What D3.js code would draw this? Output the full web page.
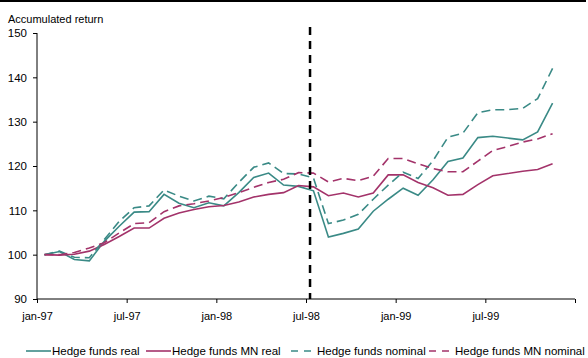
<!DOCTYPE html>
<html><head><meta charset="utf-8">
<script src="https://cdn.jsdelivr.net/npm/d3@7"></script>
<style>body{margin:0;background:#fff}svg{display:block;font-family:"Liberation Sans",Arial,sans-serif}</style>
</head><body><svg id="c" width="588" height="358"></svg>
<script>
const months = ["jan-97","feb-97","mar-97","apr-97","may-97","jun-97","jul-97","aug-97","sep-97","oct-97","nov-97","dec-97",
"jan-98","feb-98","mar-98","apr-98","may-98","jun-98","jul-98","aug-98","sep-98","oct-98","nov-98","dec-98",
"jan-99","feb-99","mar-99","apr-99","may-99","jun-99","jul-99","aug-99","sep-99","oct-99","nov-99"];
const tickLabels = ["jan-97","jul-97","jan-98","jul-98","jan-99","jul-99"];
const yTicks = [90,100,110,120,130,140,150];
const hfReal = [100,100.7,98.9,98.6,103,106.4,109.6,109.7,113.6,111.6,110.6,111.7,111,114,117.4,118.4,115.7,115.4,114.4,104,104.8,105.8,109.8,112.5,115,113.4,116.9,121,121.8,126.4,126.7,126.3,125.9,127.7,134.2];
const hfMnReal = [100,99.9,100.1,100.8,102.3,104.1,106,106,108.2,109.4,110.2,110.8,111.1,111.9,113,113.6,114,115.6,115.3,113.3,113.9,113,113.9,118,118,116.3,115.1,113.4,113.6,115.8,117.8,118.3,118.8,119.2,120.5];
const hfNominal = [100,100.8,99.4,99.3,103.4,107.5,110.6,111,114.6,113.2,112.1,113.2,112.6,116.3,119.7,120.7,118.3,118.2,117.3,107,107.8,109.1,112.5,115.7,118.6,117.2,121.2,126.5,127.4,132,132.7,132.7,133,135.2,142];
const hfMnNominal = [100,100,100.5,101.5,102.7,104.9,107,107.2,109.7,111,111.5,112.1,112.9,114,115.2,116.3,117,118.5,118.4,116.4,117.2,116.7,117.7,121.7,121.7,120.5,119.4,118.7,118.7,121.1,123.5,124.4,125.4,126.1,127.3];
const seriesNames = ["Hedge funds real","Hedge funds MN real","Hedge funds nominal","Hedge funds MN nominal"];
const markerMonth = 18.27;

const teal = "#3a8a86", mag = "#a3336a";
const series = [
  {name: seriesNames[0], values: hfReal, color: teal, dash: null},
  {name: seriesNames[1], values: hfMnReal, color: mag, dash: null},
  {name: seriesNames[2], values: hfNominal, color: teal, dash: "9,5"},
  {name: seriesNames[3], values: hfMnNominal, color: mag, dash: "9,5"}
];

const svg = d3.select("#c");
const x = d3.scaleLinear().domain([0, 36]).range([37, 575]);
const y = d3.scaleLinear().domain([90, 150]).range([299, 33]);

svg.append("line").attr("x1",0).attr("x2",586).attr("y1",1).attr("y2",1).attr("stroke","#000").attr("stroke-width",2);

svg.append("text").attr("x",8).attr("y",23).attr("font-size",11).text("Accumulated return");

const ya = svg.append("g").attr("transform","translate(37,0)")
  .call(d3.axisLeft(y).tickValues(yTicks).tickSize(4).tickPadding(6));
ya.selectAll("text").attr("font-size",11.5).attr("fill","#000").attr("font-family","Liberation Sans, Arial, sans-serif");
ya.selectAll("line,path").attr("stroke","#000");
ya.select(".domain").attr("d","M0,33V299");

const tickVals = [0,6,12,18,24,30,36];
const xa = svg.append("g").attr("transform","translate(0,299)")
  .call(d3.axisBottom(x).tickValues(tickVals).tickSize(4).tickPadding(9)
    .tickFormat((d,i)=> tickLabels[i] || ""));
xa.selectAll("text").attr("font-size",11).attr("fill","#000").attr("font-family","Liberation Sans, Arial, sans-serif");
xa.selectAll("line,path").attr("stroke","#000");
xa.select(".domain").attr("d","M37,0H575");

const line = d3.line().x((d,i)=>x(i+0.5)).y(d=>y(d));
series.forEach(s=>{
  svg.append("path").attr("d", line(s.values)).attr("fill","none")
    .attr("stroke", s.color).attr("stroke-width", 1.6)
    .attr("stroke-dasharray", s.dash);
});

svg.append("line").attr("x1",x(markerMonth)).attr("x2",x(markerMonth)).attr("y1",27).attr("y2",299)
  .attr("stroke","#000").attr("stroke-width",2.5).attr("stroke-dasharray","8,6");

const legX = [26, 146, 291, 429];
const lg = svg.append("g");
series.forEach((s,i)=>{
  lg.append("line").attr("x1",legX[i]).attr("x2",legX[i]+25).attr("y1",351).attr("y2",351)
    .attr("stroke",s.color).attr("stroke-width",1.6).attr("stroke-dasharray", s.dash ? "7,6" : null);
  lg.append("text").attr("x",legX[i]+26).attr("y",355).attr("font-size",11.5).text(s.name);
});
</script></body></html>
